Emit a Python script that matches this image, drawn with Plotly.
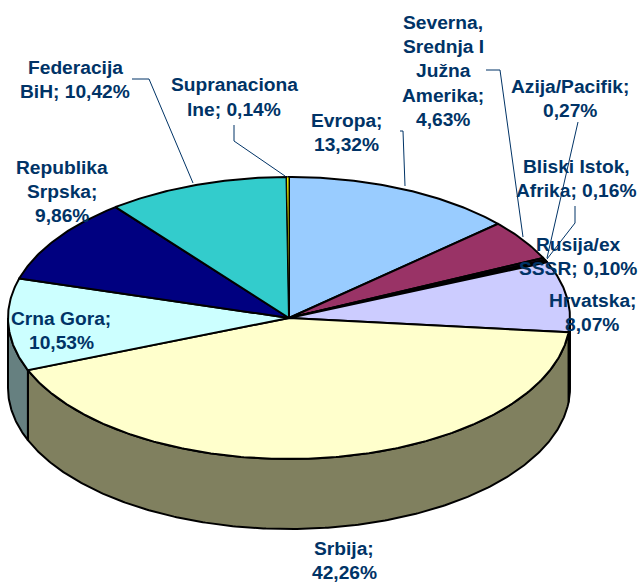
import math
import plotly.graph_objects as go

names = ["Evropa", "Severna, Srednja I Južna Amerika", "Azija/Pacifik", "Bliski Istok, Afrika",
         "Rusija/ex SSSR", "Hrvatska", "Srbija", "Crna Gora", "Republika Srpska",
         "Federacija BiH", "Supranacionalne"]
values = [13.32, 4.63, 0.27, 0.16, 0.10, 8.07, 42.26, 10.53, 9.86, 10.42, 0.14]
top_colors = ["#99CCFF", "#993366", "#3A0A3A", "#202060", "#400040", "#CCCCFF", "#FFFFCC",
              "#CCFFFF", "#000080", "#33CCCC", "#FFFF00"]
side_colors = ["#668099", "#5C1F3D", "#200520", "#101030", "#200020", "#7A7A99", "#80805F",
               "#668080", "#00004D", "#1F7A7A", "#999900"]

# layout of the pie in page pixels
CX, CY, RX, RY, DEPTH = 289, 318, 281, 141, 70
W, H = 639, 582
TEXT = "#003366"

label_lines = [
    ("Federacija", 75, 67), ("BiH; 10,42%", 75, 91),
    ("Supranaciona", 234, 84), ("lne; 0,14%", 234, 109),
    ("Evropa;", 346, 120), ("13,32%", 346, 144),
    ("Severna,", 443, 22), ("Srednja I", 443, 46), ("Južna", 443, 70), ("Amerika;", 443, 95), ("4,63%", 443, 119),
    ("Azija/Pacifik;", 570, 86), ("0,27%", 570, 110),
    ("Bliski Istok,", 576, 166), ("Afrika; 0,16%", 576, 190),
    ("Rusija/ex", 578, 244), ("SSSR; 0,10%", 578, 268),
    ("Hrvatska;", 592, 300), ("8,07%", 592, 324),
    ("Srbija;", 344, 548), ("42,26%", 344, 572),
    ("Crna Gora;", 61, 318), ("10,53%", 61, 342),
    ("Republika", 62, 167), ("Srpska;", 62, 191), ("9,86%", 62, 215),
]
leaders = [
    [(132, 79), (149, 79), (193, 183)],
    [(234, 125), (234, 141), (285, 176)],
    [(400, 131), (403, 131), (405, 186)],
    [(486, 70), (500, 70), (523, 237)],
    [(578, 122), (547, 258)],
    [(575, 206), (575, 223), (547, 259)],
]


def pt(t, dz=0.0):
    return CX + RX * math.sin(t), CY - RY * math.cos(t) + dz


def arc(t0, t1, dz=0.0):
    n = max(2, int(abs(t1 - t0) / 0.01))
    return [pt(t0 + (t1 - t0) * i / n, dz) for i in range(n + 1)]


total = sum(values)
edges = [0.0]
for v in values:
    edges.append(edges[-1] + v / total * 2 * math.pi)

fig = go.Figure()


def poly(points, fill, width=2.0):
    fig.add_trace(go.Scatter(
        x=[p[0] for p in points], y=[p[1] for p in points], mode="lines",
        fill="toself", fillcolor=fill, line=dict(color="black", width=width),
        hoverinfo="skip", showlegend=False))


# outer wall: only the part of the rim facing the viewer
for i in range(len(values)):
    a = max(edges[i], math.pi / 2)
    b = min(edges[i + 1], 3 * math.pi / 2)
    if a < b:
        poly(arc(a, b) + arc(b, a, DEPTH) + [pt(a)], side_colors[i])

# top surface; the last sliver gets a fine outline so that its fill stays visible
for i in range(len(values)):
    poly([(CX, CY)] + arc(edges[i], edges[i + 1]) + [(CX, CY)], top_colors[i],
         width=1.0 if i == len(values) - 1 else 2.0)

# leader lines
for seg in leaders:
    fig.add_trace(go.Scatter(
        x=[p[0] for p in seg], y=[p[1] for p in seg], mode="lines",
        line=dict(color=TEXT, width=1), hoverinfo="skip", showlegend=False))

for text, x, y in label_lines:
    fig.add_annotation(x=x, y=y, text=text, showarrow=False, xanchor="center", yanchor="middle",
                       font=dict(family="Liberation Sans", size=19.2, color=TEXT, weight="bold"))

fig.update_xaxes(range=[0, W], visible=False, fixedrange=True)
fig.update_yaxes(range=[H, 0], visible=False, fixedrange=True)
fig.update_layout(width=W, height=H, margin=dict(l=0, r=0, t=0, b=0),
                  paper_bgcolor="white", plot_bgcolor="white", showlegend=False)
fig.write_html("out.html", config=dict(displayModeBar=False),
               post_script="document.body.style.margin='0';document.body.style.overflow='hidden';")
